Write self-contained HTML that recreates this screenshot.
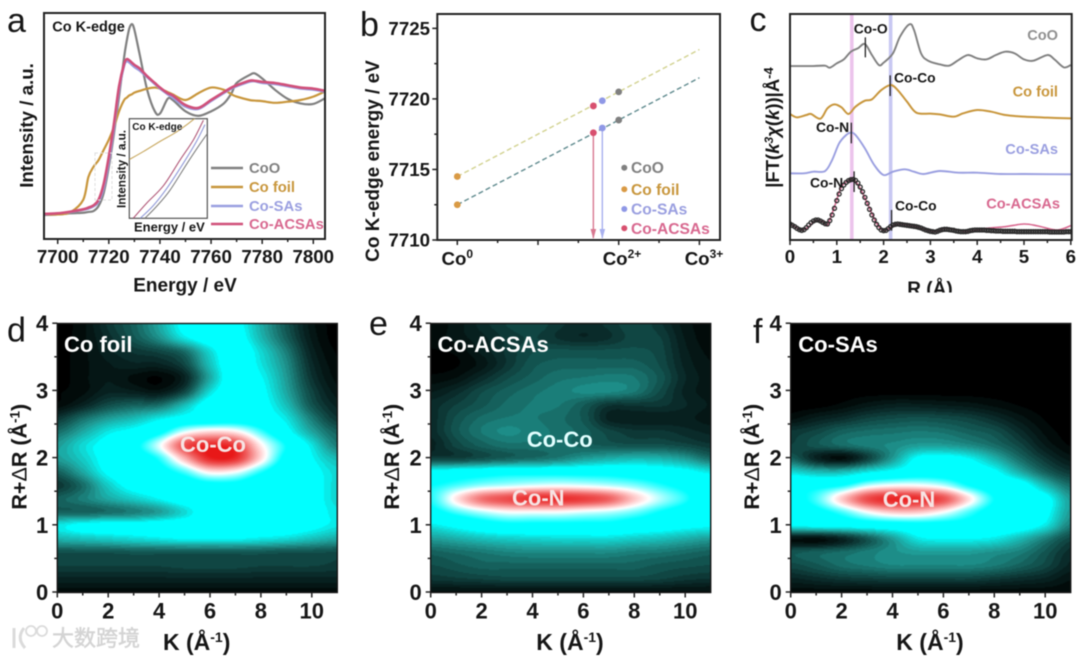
<!DOCTYPE html>
<html lang="en">
<head>
<meta charset="utf-8">
<title>Co K-edge XAS figure</title>
<style>
html,body{margin:0;padding:0;background:#fff;}
#figure{position:relative;width:1080px;height:657px;overflow:hidden;background:#fff;filter:blur(.55px);font-family:"Liberation Sans","Noto Sans CJK SC",sans-serif;}
canvas{position:absolute;top:323.5px;width:280px;height:269px;}
svg{position:absolute;left:0;top:0;}
text{font-family:"Liberation Sans","Noto Sans CJK SC",sans-serif;font-weight:700;fill:#161616;}
.tick{font-size:18.7px;}
.title{font-size:19px;}
.letter{font-size:34px;font-weight:400;}
.hl{font-size:22px;fill:#fff;}
.htick{font-size:22px;}
.c-label{font-size:13.9px;}
.c-name{font-size:14.6px;text-anchor:end;}
</style>
</head>
<body>
<div id="figure">
<canvas id="heat-d" width="280" height="269" style="left:57.3px"></canvas>
<canvas id="heat-e" width="280" height="269" style="left:430.7px"></canvas>
<canvas id="heat-f" width="280" height="269" style="left:790.7px"></canvas>
<svg id="chart" width="1080" height="657" viewBox="0 0 1080 657">
<defs>
<clipPath id="clip-a"><rect x="44" y="13" width="281" height="226"/></clipPath>
<clipPath id="clip-c"><rect x="790" y="14" width="282" height="226"/></clipPath>
<clipPath id="clip-ctitle"><rect x="880" y="270" width="100" height="22.5"/></clipPath>
<clipPath id="clip-inset"><rect x="129.3" y="118.7" width="78" height="99.6"/></clipPath>
</defs>

<g id="panel-a">
<text class="letter" x="7" y="32">a</text>
<g id="a-lines" clip-path="url(#clip-a)"></g>
<rect x="44" y="13" width="281" height="226" fill="none" stroke="#222" stroke-width="2"/>
<g id="a-ticks"></g>
<text x="52.3" y="31.7" font-size="14.5">Co K-edge</text>
<text x="185" y="291.7" text-anchor="middle" class="title">Energy / eV</text>
<text transform="translate(33,125.5) rotate(-90)" text-anchor="middle" font-size="18.7">Intensity / a.u.</text>
<rect x="95" y="153" width="17" height="47" fill="none" stroke="#ddd" stroke-width="1" stroke-dasharray="3 2"/>
<rect x="129.3" y="118.7" width="78" height="99.6" fill="#fff" stroke="#444" stroke-width="1.1"/>
<g id="inset-lines" clip-path="url(#clip-inset)"></g>
<text x="132.3" y="130" font-size="10">Co K-edge</text>
<text x="134" y="231.7" font-size="13">Energy / eV</text>
<text transform="translate(125.5,169) rotate(-90)" text-anchor="middle" font-size="11.7">Intensity / a.u.</text>
<line x1="211" y1="168" x2="243" y2="168" stroke="#808080" stroke-width="2.4"/>
<line x1="211" y1="187" x2="243" y2="187" stroke="#c8963c" stroke-width="2.4"/>
<line x1="211" y1="206" x2="243" y2="206" stroke="#9a9fe0" stroke-width="2.4"/>
<line x1="211" y1="224" x2="243" y2="224" stroke="#d0507a" stroke-width="2.4"/>
<text x="249" y="173" font-size="14.8" style="fill:#808080">CoO</text>
<text x="249" y="192" font-size="14.8" style="fill:#c8963c">Co foil</text>
<text x="249" y="211" font-size="14.8" style="fill:#9a9fe0">Co-SAs</text>
<text x="249" y="229" font-size="14.8" style="fill:#d8688f">Co-ACSAs</text>
</g>

<g id="panel-b">
<text class="letter" x="360" y="36">b</text>
<g id="b-marks"></g>
<rect x="437.3" y="14" width="282.7" height="226" fill="none" stroke="#222" stroke-width="2"/>
<g id="b-ticks"></g>
<text x="457.3" y="265" text-anchor="middle" class="tick">Co<tspan dy="-7" font-size="12">0</tspan></text>
<text x="622" y="265" text-anchor="middle" class="tick">Co<tspan dy="-7" font-size="12">2+</tspan></text>
<text x="704" y="265" text-anchor="middle" class="tick">Co<tspan dy="-7" font-size="12">3+</tspan></text>
<text transform="translate(379,161) rotate(-90)" text-anchor="middle" class="title">Co K-edge energy / eV</text>
<circle cx="624.3" cy="167.7" r="3" fill="#808080"/>
<circle cx="624.3" cy="189.3" r="3" fill="#d99a45"/>
<circle cx="624.3" cy="209" r="3" fill="#8f98e6"/>
<circle cx="624.3" cy="228.3" r="3" fill="#d8506f"/>
<text x="631" y="173" font-size="15.6" style="fill:#808080">CoO</text>
<text x="631" y="195" font-size="15.6" style="fill:#c8963c">Co foil</text>
<text x="631" y="214.5" font-size="15.6" style="fill:#9a9fe0">Co-SAs</text>
<text x="631" y="234" font-size="15.6" style="fill:#d8688f">Co-ACSAs</text>
</g>

<g id="panel-c">
<text class="letter" x="749.5" y="31">c</text>
<g id="c-bands"></g>
<g id="c-lines" clip-path="url(#clip-c)"></g>
<rect x="790" y="14" width="281.7" height="226" fill="none" stroke="#222" stroke-width="2"/>
<g id="c-ticks"></g>
<g id="c-peaks"></g>
<text class="c-label" x="853.7" y="33.3">Co-O</text>
<text class="c-label" x="894" y="82.3">Co-Co</text>
<text class="c-label" x="816" y="132">Co-N</text>
<text class="c-label" x="810" y="187.3">Co-N</text>
<text class="c-label" x="895" y="210.7">Co-Co</text>
<text class="c-name" x="1058" y="40" style="fill:#909090">CoO</text>
<text class="c-name" x="1058" y="96.7" style="fill:#c8963c">Co foil</text>
<text class="c-name" x="1058" y="154" style="fill:#9a9fe0">Co-SAs</text>
<text class="c-name" x="1060" y="208.7" style="fill:#d8688f">Co-ACSAs</text>
<text x="930" y="295" text-anchor="middle" class="title" clip-path="url(#clip-ctitle)">R (Å)</text>
<text transform="translate(779,127.5) rotate(-90)" text-anchor="middle" font-size="18.5">|FT(<tspan font-style="italic">k</tspan><tspan dy="-6" font-size="12" font-style="italic">3</tspan><tspan dy="6" font-style="italic">χ</tspan>(<tspan font-style="italic">k</tspan>))|Å<tspan dy="-6" font-size="13">-4</tspan></text>
</g>

<g id="heat-axes"></g>
<g>
<text class="letter" x="7" y="341.7">d</text>
<text class="letter" x="369" y="335">e</text>
<text class="letter" x="753" y="343">f</text>
<text class="hl" x="64" y="352">Co foil</text>
<text class="hl" x="437.5" y="352">Co-ACSAs</text>
<text class="hl" x="798.3" y="352">Co-SAs</text>
<text class="hl" x="180" y="452" style="fill:#f7e4e4">Co-Co</text>
<text class="hl" x="526.7" y="447" style="fill:#e2ffff">Co-Co</text>
<text class="hl" x="512" y="505.5" style="fill:#f7e4e4">Co-N</text>
<text class="hl" x="882.7" y="507" style="fill:#f7e4e4">Co-N</text>
<text x="196.7" y="650" text-anchor="middle" font-size="23">K (Å<tspan dy="-8" font-size="14">-1</tspan><tspan dy="8">)</tspan></text>
<text x="570" y="650" text-anchor="middle" font-size="23">K (Å<tspan dy="-8" font-size="14">-1</tspan><tspan dy="8">)</tspan></text>
<text x="930" y="650" text-anchor="middle" font-size="23">K (Å<tspan dy="-8" font-size="14">-1</tspan><tspan dy="8">)</tspan></text>
<text transform="translate(26.5,456.7) rotate(-90)" text-anchor="middle" font-size="21.5">R+<tspan font-weight="400">Δ</tspan>R (Å<tspan dy="-7" font-size="13.5">-1</tspan><tspan dy="7">)</tspan></text>
<text transform="translate(399,456.7) rotate(-90)" text-anchor="middle" font-size="21.5">R+<tspan font-weight="400">Δ</tspan>R (Å<tspan dy="-7" font-size="13.5">-1</tspan><tspan dy="7">)</tspan></text>
<text transform="translate(759,456.7) rotate(-90)" text-anchor="middle" font-size="21.5">R+<tspan font-weight="400">Δ</tspan>R (Å<tspan dy="-7" font-size="13.5">-1</tspan><tspan dy="7">)</tspan></text>
</g>

<g opacity=".9">
<path d="M14 628L14 648M24 628Q16 638 25 648" fill="none" stroke="#d8d8d8" stroke-width="3"/>
<circle cx="31" cy="631" r="5" fill="none" stroke="#d8d8d8" stroke-width="1.8"/>
<circle cx="42" cy="631" r="5" fill="none" stroke="#d8d8d8" stroke-width="1.8"/>
<text x="52" y="646" font-size="22" style="fill:#d0d0d0;font-weight:400;stroke:#d0d0d0;stroke-width:.5">大数跨境</text>
</g>
</svg>
</div>

<script>
/* ---------- Panel a: XANES ---------- */
const aEnergy = [7695,7700,7705,7710,7712,7714,7716,7718,7720,7722,7724,7726,7727,7728,7729,7730,7732,7735,7738,7740,7743,7745,7750,7755,7760,7765,7768,7770,7775,7777,7780,7785,7790,7795,7800,7805];
const aCoO = [-.015,-.01,0,.005,.012,.02,.065,.18,.41,.70,1.03,1.38,1.52,1.63,1.67,1.62,1.41,1.09,.90,.88,1.01,1.0,.90,.86,.90,.97,1.06,1.15,1.22,1.235,1.19,1.09,1.01,.97,.965,1.02];
const aFoil = [-.01,-.01,.01,.12,.32,.41,.47,.56,.65,.76,.90,1.0,1.02,1.04,1.05,1.065,1.08,1.10,1.11,1.10,1.07,1.05,1.0,1.06,1.11,1.09,1.05,1.03,1.0,.995,.99,.975,.985,1.0,1.03,1.08];
const aSAs = [-.01,0,.01,.03,.04,.06,.1,.22,.45,.74,1.08,1.30,1.34,1.33,1.31,1.29,1.26,1.2,1.14,1.10,1.05,1.02,.94,.92,.99,1.06,1.1,1.12,1.16,1.165,1.15,1.14,1.12,1.1,1.09,1.07];
const aACSAs = [-.005,0,.015,.035,.05,.07,.12,.26,.5,.79,1.12,1.32,1.36,1.35,1.33,1.31,1.28,1.21,1.15,1.11,1.06,1.04,.955,.93,1.0,1.07,1.11,1.13,1.17,1.17,1.16,1.15,1.13,1.11,1.10,1.08];
const aTickLabels = [7700,7720,7740,7760,7780,7800];
const aMinorTicks = [7710,7730,7750,7770,7790];

/* Inset: normalised energy / intensity window */
const insetFoilX = [0,.18,.39,.61,.82,1];
const insetFoilY = [.59,.67,.77,.87,.99,1.12];
const insetACSAsX = [.05,.22,.44,.65,.82,.95];
const insetACSAsY = [0,.15,.33,.585,.785,.985];
const insetSAsX = [.14,.31,.48,.69,.86,.97];
const insetSAsY = [0,.13,.3,.55,.77,.94];
const insetCoOX = [.2,.35,.52,.74,.91,1];
const insetCoOY = [0,.12,.28,.55,.75,.85];

/* ---------- Panel b: edge energy vs. valence ---------- */
const bFitValence = [0,3];
const bFitUpper = [7714.5,7723.5];
const bFitLower = [7712.5,7721.5];
const bCoOValence = [2,2];
const bCoOEnergy = [7720.5,7718.5];
const bFoilValence = [0,0];
const bFoilEnergy = [7714.5,7712.5];
const bSAsValence = [1.797,1.797];
const bSAsEnergy = [7719.87,7717.94];
const bACSAsValence = [1.686,1.686];
const bACSAsEnergy = [7719.5,7717.6];
const bYTicks = [7710,7715,7720,7725];
const bYMinor = [7712.5,7717.5,7722.5];
const bXMinor = [.5,1.5,2.5];
const bXMajor = [0,1,2,3];

/* ---------- Panel c: FT-EXAFS (values include each trace's vertical offset) ---------- */
const cCoOR = [0,.5,.75,.85,1.0,1.15,1.3,1.45,1.6,1.75,1.9,2.0,2.2,2.35,2.55,2.65,2.8,2.95,3.2,3.4,3.6,3.8,4.0,4.2,4.4,4.6,4.8,5.0,5.2,5.5,5.65,5.85,6.0];
const cCoOV = [5.22,5.22,5.23,5.17,5.30,5.42,5.65,5.75,5.88,5.55,5.25,5.32,5.60,6.10,6.47,6.30,5.60,5.38,5.27,5.23,5.40,5.55,5.45,5.42,5.55,5.65,5.60,5.42,5.38,5.55,5.42,5.18,5.25];
const cFoilR = [0,.15,.35,.45,.65,.8,.95,1.1,1.25,1.4,1.6,1.75,1.95,2.15,2.3,2.5,2.7,3.0,3.2,3.5,3.7,4.0,4.3,4.6,5,5.5,6];
const cFoilV = [3.78,3.68,3.75,3.78,3.64,3.95,4.07,3.98,3.78,4.0,4.18,4.22,4.5,4.65,4.5,4.15,3.82,3.79,3.77,3.7,3.8,3.9,3.85,3.75,3.7,3.67,3.65];
const cSAsR = [0,.3,.5,.75,.9,1.05,1.2,1.3,1.4,1.6,1.8,2.0,2.2,2.45,2.65,2.85,3.2,3.6,4,4.5,5,6];
const cSAsV = [2.0,2.0,2.05,2.07,2.4,2.9,3.15,3.22,3.15,2.75,2.25,1.95,2.05,2.12,2.05,1.98,2.07,2.02,2.02,1.98,1.98,1.97];
const cACSAsR = [0,.1,.25,.4,.55,.7,.8,.95,1.1,1.25,1.35,1.5,1.7,1.85,2.0,2.15,2.3,2.6,2.8,3.1,3.3,3.6,3.8,4.2,4.6,5,5.3,5.7,6];
const cACSAsV = [.48,.40,.30,.40,.58,.55,.45,1.0,1.6,1.78,1.82,1.55,.95,.5,.28,.38,.48,.43,.35,.25,.35,.30,.25,.35,.40,.48,.42,.30,.43];
const cFitStep = 0.05;
const cFitV = [.48,.44,.40,.35,.31,.29,.31,.37,.45,.52,.57,.60,.60,.57,.53,.49,.48,.58,.75,.95,
1.18,1.38,1.54,1.65,1.73,1.78,1.81,1.82,1.79,1.71,1.59,1.45,1.28,1.10,.92,.75,.60,.47,.37,.30,
.28,.29,.34,.40,.45,.47,.48,.47,.46,.45,.44,.43,.42,.41,.40,.38,.36,.33,.30,.28,
.26,.25,.24,.26,.29,.31,.32,.32,.31,.30,.29,.27,.26,.25,.25,.25,.26,.28,.29,.30,
.30,.30,.30,.30,.29,.29,.28,.28,.27,.27,.27,.26,.26,.26,.26,.26,.26,.25,.25,.25,
.25,.25,.25,.25,.25,.25,.25,.25,.25,.25,.25,.24,.24,.24,.24,.24,.24,.24,.25,.25,.25];
const cBandR = [1.32,2.15];
const cPeakR = [1.61,2.14,1.31,1.37,2.17];
const cPeakLow = [5.48,4.32,2.9,1.44,.28];
const cPeakHigh = [6.08,4.94,3.52,2.06,.9];
const cTickLabels = [0,1,2,3,4,5,6];
const cMinorTicks = [.5,1.5,2.5,3.5,4.5,5.5];

/* ---------- Panels d-f: wavelet transform maps ---------- */
const heatK = [0,1,2,3,4,5,6,7,8,9,10,11];
const heatR = [0,.2,.4,.6,.8,1,1.2,1.4,1.6,1.8,2,2.2,2.4,2.6,2.8,3,3.2,3.4,3.6,3.8,4];
const heatKTicks = [0,2,4,6,8,10];
const heatKMinor = [1,3,5,7,9];
const heatRTicks = [0,1,2,3,4];
const heatRMinor = [.5,1.5,2.5,3.5];

const heatFoil = [
[.02,.02,.02,.02,.02,.02,.02,.02,.02,.02,.02,.02],
[.08,.08,.08,.08,.08,.08,.08,.08,.08,.08,.08,.08],
[.14,.14,.14,.14,.14,.15,.15,.15,.14,.14,.14,.13],
[.17,.17,.17,.18,.18,.18,.18,.18,.18,.17,.17,.16],
[.34,.36,.38,.40,.42,.44,.44,.44,.42,.40,.36,.32],
[.42,.47,.48,.48,.50,.50,.50,.50,.50,.50,.47,.42],
[.20,.20,.22,.25,.30,.40,.50,.50,.50,.50,.48,.42],
[.20,.25,.32,.38,.44,.50,.50,.50,.50,.50,.48,.40],
[.12,.22,.38,.48,.50,.52,.55,.55,.50,.50,.48,.40],
[.20,.32,.46,.50,.54,.62,.74,.72,.60,.50,.47,.40],
[.30,.38,.48,.52,.60,.80,.98,.97,.76,.55,.45,.35],
[.30,.40,.48,.55,.70,.92,.98,.95,.74,.58,.42,.25],
[.22,.32,.42,.47,.55,.70,.76,.74,.62,.48,.32,.20],
[.12,.22,.30,.35,.42,.48,.50,.52,.50,.42,.25,.12],
[.02,.08,.16,.20,.22,.35,.50,.52,.48,.36,.18,.08],
[.01,.03,.08,.07,.05,.15,.40,.52,.47,.32,.15,.05],
[0,.03,.06,.03,.01,.08,.32,.52,.45,.30,.12,.03],
[0,.03,.06,.08,.08,.15,.36,.52,.42,.28,.10,.02],
[0,.03,.08,.12,.15,.22,.40,.52,.40,.25,.08,.01],
[0,.03,.10,.18,.28,.42,.50,.50,.35,.20,.06,0],
[0,.03,.12,.20,.32,.47,.50,.48,.33,.18,.05,0]];

const heatACSAs = [
[.03,.03,.03,.03,.03,.03,.03,.03,.03,.03,.03,.03],
[.12,.13,.14,.15,.15,.15,.15,.15,.15,.14,.12,.11],
[.16,.18,.20,.20,.20,.20,.20,.20,.20,.18,.17,.16],
[.20,.22,.24,.26,.27,.27,.27,.27,.25,.24,.22,.20],
[.30,.33,.36,.38,.39,.40,.40,.40,.38,.36,.33,.30],
[.42,.47,.52,.55,.55,.55,.55,.55,.52,.50,.47,.45],
[.55,.62,.68,.72,.72,.72,.70,.68,.64,.58,.53,.48],
[.60,.75,.88,.93,.97,.97,.95,.90,.78,.68,.60,.50],
[.58,.62,.66,.68,.70,.71,.70,.68,.65,.60,.55,.50],
[.47,.50,.52,.54,.54,.54,.54,.54,.52,.50,.47,.42],
[.14,.14,.17,.20,.22,.25,.30,.33,.35,.34,.30,.22],
[.08,.15,.20,.23,.23,.23,.20,.18,.17,.17,.15,.12],
[.10,.18,.24,.27,.25,.23,.20,.15,.12,.12,.10,.08],
[.10,.17,.22,.24,.24,.22,.18,.08,.07,.07,.07,.05],
[.10,.14,.18,.22,.24,.24,.19,.12,.12,.12,.09,.06],
[.06,.10,.16,.20,.23,.25,.27,.27,.24,.16,.08,.05],
[.02,.04,.10,.16,.20,.23,.24,.25,.24,.18,.09,.05],
[0,.01,.05,.12,.18,.20,.20,.20,.20,.16,.08,.04],
[.01,.02,.07,.12,.16,.17,.17,.17,.17,.15,.07,.03],
[.02,.05,.08,.12,.14,.11,.09,.11,.15,.14,.06,.02],
[.02,.05,.10,.14,.16,.12,.10,.12,.16,.12,.05,.02]];

const heatSAs = [
[.02,.02,.02,.02,.02,.02,.02,.02,.02,.02,.02,.02],
[.08,.10,.12,.13,.14,.14,.14,.14,.12,.10,.08,.04],
[.15,.18,.22,.24,.26,.26,.26,.26,.24,.20,.15,.08],
[.18,.20,.22,.25,.28,.30,.30,.30,.28,.25,.18,.10],
[.04,.03,.08,.18,.30,.42,.44,.44,.42,.35,.25,.15],
[.44,.47,.48,.50,.52,.54,.54,.54,.52,.50,.42,.25],
[.52,.55,.62,.72,.78,.78,.72,.62,.54,.52,.47,.30],
[.55,.62,.78,.93,.98,.97,.92,.75,.58,.52,.48,.30],
[.55,.55,.58,.68,.72,.72,.68,.58,.52,.50,.35,.22],
[.40,.35,.35,.42,.47,.52,.52,.50,.46,.33,.20,.12],
[.20,.08,.03,.14,.30,.46,.48,.44,.34,.22,.12,.05],
[.14,.18,.22,.25,.27,.30,.30,.27,.22,.15,.06,.01],
[.12,.15,.20,.22,.23,.24,.23,.20,.17,.10,.03,0],
[.03,.07,.10,.14,.16,.17,.16,.14,.10,.05,.01,0],
[0,0,.02,.05,.07,.07,.06,.05,.03,.01,0,0],
[0,0,0,0,0,0,0,0,0,0,0,0],
[0,0,0,0,0,0,0,0,0,0,0,0],
[0,0,0,0,0,0,0,0,0,0,0,0],
[0,0,0,0,0,0,0,0,0,0,0,0],
[0,0,0,0,0,0,0,0,0,0,0,0],
[0,0,0,0,0,0,0,0,0,0,0,0]];

/* Axis functions */
const SVGNS = 'http://www.w3.org/2000/svg';
const aX = e => 57.7 + (e - 7700) * 2.556;
const aY = v => 213.3 - v * 113.3;
const insetX = f => 129.3 + f * 78;
const insetY = f => 218.3 - f * 99.6;
const bX = o => 457.3 + o * 80.7;
const bY = e => 240 - (e - 7710) * 14.11;
const cX = r => 790 + r * 46.8;
const cY = v => 240 - v * 33.33;

function node(parent, tag, attrs) {
  const el = document.createElementNS(SVGNS, tag);
  for (const key in attrs) el.setAttribute(key, attrs[key]);
  parent.appendChild(el);
  return el;
}
function smoothPath(xs, ys) {
  let d = 'M' + xs[0].toFixed(2) + ' ' + ys[0].toFixed(2);
  for (let i = 0; i < xs.length - 1; i++) {
    const x0 = xs[Math.max(i - 1, 0)], y0 = ys[Math.max(i - 1, 0)];
    const x3 = xs[Math.min(i + 2, xs.length - 1)], y3 = ys[Math.min(i + 2, xs.length - 1)];
    const c1x = xs[i] + (xs[i + 1] - x0) / 6, c1y = ys[i] + (ys[i + 1] - y0) / 6;
    const c2x = xs[i + 1] - (x3 - xs[i]) / 6, c2y = ys[i + 1] - (y3 - ys[i]) / 6;
    d += 'C' + c1x.toFixed(2) + ' ' + c1y.toFixed(2) + ' ' + c2x.toFixed(2) + ' ' + c2y.toFixed(2) + ' ' + xs[i + 1].toFixed(2) + ' ' + ys[i + 1].toFixed(2);
  }
  return d;
}
function drawCurve(parent, name, xVals, yVals, xFn, yFn, color, width) {
  const path = node(parent, 'path', {d: smoothPath(xVals.map(xFn), yVals.map(yFn)), fill: 'none', stroke: color, 'stroke-width': width, 'stroke-linejoin': 'round'});
  
  
  return path;
}
function xTicks(parent, prefix, values, xFn, baseY, len) {
  values.forEach(v => {
    const t = node(parent, 'line', {x1: xFn(v), x2: xFn(v), y1: baseY, y2: baseY + len, stroke: '#222', 'stroke-width': 1.5});
    
    
  });
}
function yTicks(parent, prefix, values, yFn, baseX, len) {
  values.forEach(v => {
    const t = node(parent, 'line', {x1: baseX - len, x2: baseX, y1: yFn(v), y2: yFn(v), stroke: '#222', 'stroke-width': 1.5});
    
    
  });
}
function label(parent, name, str, x, y, cls, anchor) {
  const t = node(parent, 'text', {x: x, y: y, class: cls, 'text-anchor': anchor});
  t.textContent = str;
  
  
  return t;
}
function dot(parent, name, cx, cy, color) {
  const c = node(parent, 'circle', {cx: cx, cy: cy, r: 3.4, fill: color});
  
  
}

/* Panel a */
const aLines = document.getElementById('a-lines');
drawCurve(aLines, 'curve-coo', aEnergy, aCoO, aX, aY, '#808080', 2.2);
drawCurve(aLines, 'curve-co-foil', aEnergy, aFoil, aX, aY, '#c8963c', 2.2);
drawCurve(aLines, 'curve-co-sas', aEnergy, aSAs, aX, aY, '#9a9fe0', 2.2);
drawCurve(aLines, 'curve-co-acsas', aEnergy, aACSAs, aX, aY, '#d0507a', 2.6);
const aTicks = document.getElementById('a-ticks');
xTicks(aTicks, 'panel-a-major', aTickLabels, aX, 239, 5);
xTicks(aTicks, 'panel-a-minor', aMinorTicks, aX, 239, 3);
aTickLabels.forEach(v => label(aTicks, 'panel-a-tick-label', String(v), aX(v), 263, 'tick', 'middle'));
const insetLines = document.getElementById('inset-lines');
drawCurve(insetLines, 'inset-curve-co-foil', insetFoilX, insetFoilY, insetX, insetY, '#c8a860', 1.1);
drawCurve(insetLines, 'inset-curve-coo', insetCoOX, insetCoOY, insetX, insetY, '#808080', 1.1);
drawCurve(insetLines, 'inset-curve-co-sas', insetSAsX, insetSAsY, insetX, insetY, '#8f98d8', 1.1);
drawCurve(insetLines, 'inset-curve-co-acsas', insetACSAsX, insetACSAsY, insetX, insetY, '#b05878', 1.1);

/* Panel b */
const bMarks = document.getElementById('b-marks');
const upperFit = node(bMarks, 'line', {x1: bX(bFitValence[0]), y1: bY(bFitUpper[0]), x2: bX(bFitValence[1]), y2: bY(bFitUpper[1]), stroke: '#d2d290', 'stroke-width': 1.4, 'stroke-dasharray': '5 3'});


const lowerFit = node(bMarks, 'line', {x1: bX(bFitValence[0]), y1: bY(bFitLower[0]), x2: bX(bFitValence[1]), y2: bY(bFitLower[1]), stroke: '#5f8a8e', 'stroke-width': 1.4, 'stroke-dasharray': '5 3'});


[[bACSAsValence[1], bACSAsEnergy[1], '#d87890', 'arrow-co-acsas'], [bSAsValence[1], bSAsEnergy[1], '#a8b0ee', 'arrow-co-sas']].forEach(a => {
  const x = bX(a[0]);
  const line = node(bMarks, 'line', {x1: x, y1: bY(a[1]), x2: x, y2: 238, stroke: a[2], 'stroke-width': 1.4});
  
  
  const head = node(bMarks, 'path', {d: 'M' + (x - 2.8) + ' 229L' + (x + 2.8) + ' 229L' + x + ' 239Z', fill: a[2]});
  
  
});
bCoOEnergy.forEach((e, i) => dot(bMarks, 'point-coo', bX(bCoOValence[i]), bY(e), '#808080'));
bFoilEnergy.forEach((e, i) => dot(bMarks, 'point-co-foil', bX(bFoilValence[i]), bY(e), '#d99a45'));
bSAsEnergy.forEach((e, i) => dot(bMarks, 'point-co-sas', bX(bSAsValence[i]), bY(e), '#8f98e6'));
bACSAsEnergy.forEach((e, i) => dot(bMarks, 'point-co-acsas', bX(bACSAsValence[i]), bY(e), '#d8506f'));
const bTicks = document.getElementById('b-ticks');
yTicks(bTicks, 'panel-b-major', bYTicks, bY, 437.3, 5);
yTicks(bTicks, 'panel-b-minor', bYMinor, bY, 437.3, 3);
xTicks(bTicks, 'panel-b-major', bXMajor, bX, 240, 5);
xTicks(bTicks, 'panel-b-minor', bXMinor, bX, 240, 3);
bYTicks.forEach(v => label(bTicks, 'panel-b-tick-label', String(v), 430, bY(v) + 6.7, 'tick', 'end'));

/* Panel c */
const cBands = document.getElementById('c-bands');
const bandColors = ['#ecc4ec', '#c8c8f2'];
cBandR.forEach((r, i) => {
  const band = node(cBands, 'rect', {x: cX(r) - 1.8, y: 14, width: 3.6, height: 226, fill: bandColors[i]});
  
  
});
const cLines = document.getElementById('c-lines');
drawCurve(cLines, 'trace-coo', cCoOR, cCoOV, cX, cY, '#808080', 1.9);
drawCurve(cLines, 'trace-co-foil', cFoilR, cFoilV, cX, cY, '#c8963c', 2);
drawCurve(cLines, 'trace-co-sas', cSAsR, cSAsV, cX, cY, '#9a9fe0', 1.9);
drawCurve(cLines, 'trace-co-acsas', cACSAsR, cACSAsV, cX, cY, '#d8688f', 1.6);
cFitV.forEach((v, i) => {
  const c = node(cLines, 'circle', {cx: cX(i * cFitStep), cy: cY(v), r: 2, fill: 'none', stroke: '#2a2a2a', 'stroke-width': 1.3});
  
  
});
const cPeaks = document.getElementById('c-peaks');
cPeakR.forEach((r, i) => {
  const m = node(cPeaks, 'line', {x1: cX(r), x2: cX(r), y1: cY(cPeakHigh[i]), y2: cY(cPeakLow[i]), stroke: '#222', 'stroke-width': 1.3});
  
  
});
const cTicks = document.getElementById('c-ticks');
xTicks(cTicks, 'panel-c-major', cTickLabels, cX, 240, 5);
xTicks(cTicks, 'panel-c-minor', cMinorTicks, cX, 240, 3);
cTickLabels.forEach(v => label(cTicks, 'panel-c-tick-label', String(v), cX(v), 263, 'tick', 'middle'));

/* Panels d-f */
const colorStops = [[0,0,0,0],[.1,10,43,42],[.2,21,96,92],[.3,31,156,150],[.4,16,216,212],[.45,0,255,255],[.58,0,255,255],[.72,255,255,255],[.78,255,200,200],[.9,240,96,96],[1,232,24,24]];
function colorAt(v) {
  if (v < .45) v = Math.round(v * 40) / 40;
  v = Math.min(1, Math.max(0, v));
  for (let i = 1; i < colorStops.length; i++) {
    if (v <= colorStops[i][0]) {
      const a = colorStops[i - 1], b = colorStops[i], t = (v - a[0]) / (b[0] - a[0]);
      return [a[1] + (b[1] - a[1]) * t, a[2] + (b[2] - a[2]) * t, a[3] + (b[3] - a[3]) * t];
    }
  }
  return colorStops[colorStops.length - 1].slice(1);
}
function cubic(p0, p1, p2, p3, t) {
  return p1 + .5 * t * (p2 - p0 + t * (2 * p0 - 5 * p1 + 4 * p2 - p3 + t * (3 * (p1 - p2) + p3 - p0)));
}
function sampleGrid(grid, col, row) {
  const c = Math.min(Math.floor(col), heatK.length - 2), r = Math.min(Math.floor(row), heatR.length - 2);
  const tc = col - c, tr = row - r, vals = [];
  for (let j = -1; j <= 2; j++) {
    const line = grid[Math.max(0, Math.min(heatR.length - 1, r + j))];
    vals.push(cubic(line[Math.max(0, c - 1)], line[c], line[c + 1], line[Math.min(heatK.length - 1, c + 2)], tc));
  }
  return cubic(vals[0], vals[1], vals[2], vals[3], tr);
}
function drawHeat(id, grid) {
  const canvas = document.getElementById(id), ctx = canvas.getContext('2d');
  const image = ctx.createImageData(canvas.width, canvas.height);
  const kMax = heatK[heatK.length - 1], rMax = heatR[heatR.length - 1];
  const kStep = heatK[1] - heatK[0], rStep = heatR[1] - heatR[0];
  for (let py = 0; py < canvas.height; py++) {
    const r = rMax * (1 - py / (canvas.height - 1));
    for (let px = 0; px < canvas.width; px++) {
      const k = kMax * px / (canvas.width - 1);
      const rgb = colorAt(sampleGrid(grid, k / kStep, r / rStep));
      const o = (py * canvas.width + px) * 4;
      image.data[o] = rgb[0];
      image.data[o + 1] = rgb[1];
      image.data[o + 2] = rgb[2];
      image.data[o + 3] = 255;
    }
  }
  ctx.putImageData(image, 0, 0);
}
drawHeat('heat-d', heatFoil);
drawHeat('heat-e', heatACSAs);
drawHeat('heat-f', heatSAs);

const heatAxes = document.getElementById('heat-axes');
[['panel-d', 57.3], ['panel-e', 430.7], ['panel-f', 790.7]].forEach(p => {
  const prefix = p[0], left = p[1];
  const hX = k => left + k * 25.45;
  const hY = r => 592 - r * 67.2;
  const frame = node(heatAxes, 'rect', {x: left, y: 323.5, width: 280, height: 269, fill: 'none', stroke: '#161616', 'stroke-width': 1.4});
  
  
  xTicks(heatAxes, prefix + '-major', heatKTicks, hX, 592.5, 5);
  xTicks(heatAxes, prefix + '-minor', heatKMinor, hX, 592.5, 3);
  yTicks(heatAxes, prefix + '-major', heatRTicks, hY, left, 5);
  yTicks(heatAxes, prefix + '-minor', heatRMinor, hY, left, 3);
  heatKTicks.forEach(v => label(heatAxes, prefix + '-k-tick-label', String(v), hX(v), 618.5, 'htick', 'middle'));
  heatRTicks.forEach(v => label(heatAxes, prefix + '-r-tick-label', String(v), left - 9, hY(v) + 8, 'htick', 'end'));
});
</script>
</body>
</html>
